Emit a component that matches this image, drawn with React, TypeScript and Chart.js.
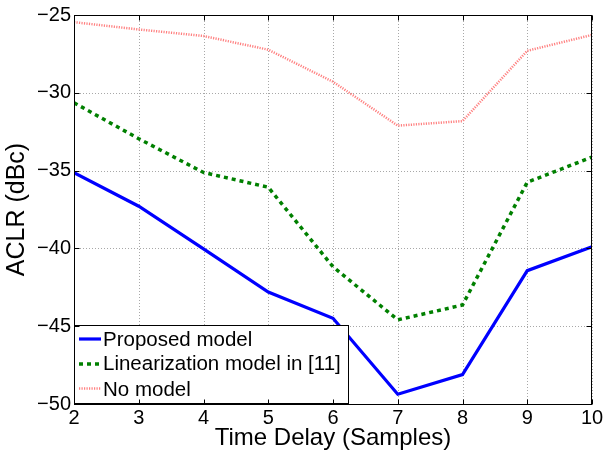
import React, { useEffect, useRef } from "react";
import { Chart, registerables } from "chart.js";

Chart.register(...registerables);

const timeDelay = [2, 3, 4, 5, 6, 7, 8, 9, 10];
const proposedModel = [-35.14, -37.29, -40.03, -42.8, -44.49, -49.37, -48.11, -41.43, -39.9];
const linearizationModel = [-30.64, -32.95, -35.12, -36.07, -41.18, -44.59, -43.64, -35.75, -34.13];
const noModel = [-25.46, -25.93, -26.35, -27.23, -29.29, -32.11, -31.82, -27.3, -26.28];
const seriesLabels = ["Proposed model", "Linearization model in [11]", "No model"];
const xTicks = [2, 3, 4, 5, 6, 7, 8, 9, 10];
const yTicks = [-50, -45, -40, -35, -30, -25];

const FONT = "'Liberation Sans', Arial, Helvetica, sans-serif";

const gridPlugin = {
  id: "dottedGrid",
  beforeDatasetsDraw(chart: any) {
    const { ctx, chartArea } = chart;
    const { left, right, top, bottom } = chartArea;
    const xs = chart.scales.x;
    const ys = chart.scales.y;
    ctx.save();
    ctx.strokeStyle = "#a8a8a8";
    ctx.lineWidth = 1;
    ctx.setLineDash([1, 2]);
    ctx.beginPath();
    xTicks.forEach((t) => {
      const x = Math.round(xs.getPixelForValue(t)) + 0.5;
      ctx.moveTo(x, top);
      ctx.lineTo(x, bottom);
    });
    yTicks.forEach((t) => {
      const y = Math.round(ys.getPixelForValue(t)) + 0.5;
      ctx.moveTo(left, y);
      ctx.lineTo(right, y);
    });
    ctx.stroke();
    ctx.restore();
  },
};

const frameAndLegend = {
  id: "frameAndLegend",
  afterDatasetsDraw(chart: any) {
    const { ctx, chartArea } = chart;
    const { left, right, top, bottom } = chartArea;
    const xs = chart.scales.x;
    const ys = chart.scales.y;
    ctx.save();
    // legend box
    const lx = Math.round(left), ly = 325, lw = 275, lh = Math.round(bottom) - ly;
    ctx.fillStyle = "#fff";
    ctx.fillRect(lx, ly, lw, lh);
    ctx.strokeStyle = "#000";
    ctx.lineWidth = 1;
    ctx.setLineDash([]);
    ctx.strokeRect(lx + 0.5, ly + 0.5, lw - 1, lh - 1);
    const lineY = [339, 364, 388.5];
    const textY = [345.5, 370, 395.5];
    chart.data.datasets.forEach((ds: any, i: number) => {
      ctx.beginPath();
      ctx.strokeStyle = ds.borderColor;
      ctx.lineWidth = ds.borderWidth;
      ctx.setLineDash(ds.borderDash || []);
      ctx.lineCap = "butt";
      ctx.moveTo(lx + 5, lineY[i]);
      ctx.lineTo(lx + 27, lineY[i]);
      ctx.stroke();
      ctx.setLineDash([]);
      ctx.fillStyle = "#000";
      ctx.font = "20.5px " + FONT;
      ctx.textBaseline = "alphabetic";
      ctx.textAlign = "left";
      ctx.fillText(ds.label, lx + 29, textY[i]);
    });
    // frame
    ctx.strokeStyle = "#000";
    ctx.lineWidth = 1;
    ctx.setLineDash([]);
    const L = Math.round(left) + 0.5, R = Math.round(right) - 0.5, T = Math.round(top) + 0.5, B = Math.round(bottom) + 0.5;
    ctx.strokeRect(L, T, R - L, B - T);
    ctx.beginPath();
    xTicks.forEach((t) => {
      const x = Math.round(xs.getPixelForValue(t)) + 0.5;
      ctx.moveTo(x, B);
      ctx.lineTo(x, B - 5);
      ctx.moveTo(x, T);
      ctx.lineTo(x, T + 5);
    });
    yTicks.forEach((t) => {
      const y = Math.round(ys.getPixelForValue(t)) + 0.5;
      ctx.moveTo(L, y);
      ctx.lineTo(L + 5, y);
      ctx.moveTo(R, y);
      ctx.lineTo(R - 5, y);
    });
    ctx.stroke();
    ctx.restore();
  },
};

export default function App() {
  const ref = useRef<HTMLCanvasElement>(null);
  useEffect(() => {
    document.body.style.margin = "0";
    const chart = new Chart(ref.current!, {
      type: "line",
      data: {
        labels: timeDelay,
        datasets: [
          {
            label: seriesLabels[0],
            data: timeDelay.map((x, i) => ({ x, y: proposedModel[i] })),
            borderColor: "#0000ff",
            borderWidth: 3.2,
            pointRadius: 0,
            tension: 0,
          },
          {
            label: seriesLabels[1],
            data: timeDelay.map((x, i) => ({ x, y: linearizationModel[i] })),
            borderColor: "#008000",
            borderWidth: 3.5,
            borderDash: [4, 4],
            pointRadius: 0,
            tension: 0,
          },
          {
            label: seriesLabels[2],
            data: timeDelay.map((x, i) => ({ x, y: noModel[i] })),
            borderColor: "#ff8080",
            borderWidth: 2.5,
            borderDash: [1.2, 1.3],
            pointRadius: 0,
            tension: 0,
          },
        ],
      },
      options: {
        animation: false,
        responsive: false,
        layout: { padding: { top: 8, right: 15, left: 0, bottom: 0 } },
        plugins: { legend: { display: false }, tooltip: { enabled: false } },
        scales: {
          x: {
            type: "linear",
            min: 2,
            max: 10,
            afterBuildTicks: (s: any) => { s.ticks = xTicks.map((v) => ({ value: v })); },
            afterFit: (s: any) => { s.height = 53; },
            grid: { display: false, drawTicks: false },
            border: { display: false },
            ticks: { color: "#000", font: { size: 20, family: FONT }, padding: 2, maxRotation: 0, autoSkip: false },
            title: { display: true, text: "Time Delay (Samples)", color: "#000", font: { size: 24, family: FONT }, padding: { top: 0, bottom: 4 } },
          },
          y: {
            type: "linear",
            min: -50,
            max: -25,
            afterBuildTicks: (s: any) => { s.ticks = yTicks.map((v) => ({ value: v })); },
            afterFit: (s: any) => { s.width = 74; },
            grid: { display: false, drawTicks: false },
            border: { display: false },
            ticks: {
              color: "#000",
              font: { size: 20, family: FONT },
              padding: 3,
              autoSkip: false,
              callback: (v: any) => String(v).replace("-", "\u2212"),
            },
            title: { display: true, text: "ACLR (dBc)", color: "#000", font: { size: 25, family: FONT }, padding: { top: 2, bottom: 0 } },
          },
        },
      },
      plugins: [gridPlugin, frameAndLegend],
    });
    return () => chart.destroy();
  }, []);
  return <canvas ref={ref} width={607} height={457} style={{ display: "block" }} />;
}
